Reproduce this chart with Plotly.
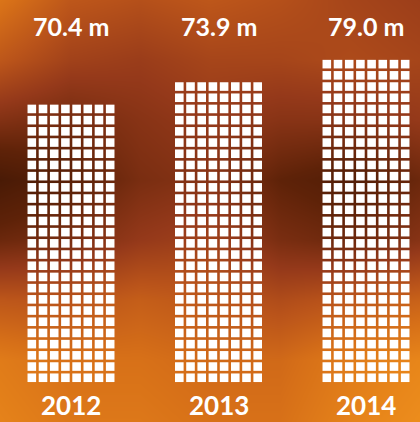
import plotly.graph_objects as go

# ---- data ----
years = ["2012", "2013", "2014"]
values = [70.4, 73.9, 79.0]           # label values (millions)
value_labels = ["70.4 m", "73.9 m", "79.0 m"]
rows_per_year = [25, 27, 29]          # rows of squares in each column
squares_per_row = 8

# ---- background texture (blurred orange/brown), brightness grid ----
bg_x = [0, 70, 140, 210, 280, 350, 420]
bg_y = [0, 60, 120, 180, 240, 300, 360, 422]
bg_z = [
    [0.78, 0.62, 0.58, 0.62, 0.58, 0.52, 0.48],
    [0.62, 0.50, 0.47, 0.52, 0.52, 0.55, 0.52],
    [0.38, 0.33, 0.40, 0.45, 0.40, 0.40, 0.45],
    [0.12, 0.22, 0.35, 0.40, 0.25, 0.18, 0.30],
    [0.30, 0.35, 0.45, 0.50, 0.35, 0.30, 0.40],
    [0.62, 0.60, 0.66, 0.62, 0.56, 0.62, 0.68],
    [0.82, 0.76, 0.76, 0.72, 0.72, 0.82, 0.88],
    [0.86, 0.80, 0.80, 0.76, 0.76, 0.86, 0.92],
]
bg_scale = [
    [0.0, "#361303"],
    [0.25, "#5e2208"],
    [0.45, "#95391a"],
    [0.6, "#b9531a"],
    [0.75, "#d66f18"],
    [0.88, "#e8861a"],
    [1.0, "#f59a22"],
]

fig = go.Figure()
fig.add_trace(go.Heatmap(x=bg_x, y=bg_y, z=bg_z, colorscale=bg_scale,
                         zmin=0, zmax=1, zsmooth="best", showscale=False,
                         hoverinfo="skip", xaxis="x", yaxis="y"))

# ---- squares ----
sx, sy = [], []
for i, n in enumerate(rows_per_year):
    for r in range(n):
        for c in range(squares_per_row):
            sx.append(i + (c - (squares_per_row - 1) / 2) * 0.0759)
            sy.append(r)
fig.add_trace(go.Scatter(x=sx, y=sy, mode="markers",
                         marker=dict(symbol="square", size=8.6, color="white",
                                     line=dict(width=0)),
                         hoverinfo="skip", xaxis="x2", yaxis="y2"))

font_family = "Lato"
for i in range(len(years)):
    fig.add_annotation(x=i, y=1 - 26 / 422, xref="x2", yref="paper",
                       text="<b>" + value_labels[i] + "</b>", showarrow=False,
                       font=dict(family=font_family, size=25, color="white"),
                       xanchor="center", yanchor="middle")
    fig.add_annotation(x=i, y=0, xref="x2", yref="paper",
                       text="<b>" + years[i] + "</b>", showarrow=False,
                       font=dict(family=font_family, size=26, color="white"),
                       xanchor="center", yanchor="bottom", borderpad=0)

hidden = dict(visible=False, showgrid=False, zeroline=False, fixedrange=True)
fig.update_layout(
    width=420, height=422,
    margin=dict(l=0, r=0, t=0, b=0),
    paper_bgcolor="#a04a15", plot_bgcolor="#a04a15",
    showlegend=False,
    xaxis=dict(range=[0, 420], domain=[0, 1], **hidden),
    yaxis=dict(range=[422, 0], domain=[0, 1], **hidden),
    xaxis2=dict(range=[-71 / 147.5, 349 / 147.5], overlaying="x", **hidden),
    yaxis2=dict(range=[(377.75 - 422) / 11.2, 377.75 / 11.2], overlaying="y", **hidden),
)

fig.write_html("out.html")
